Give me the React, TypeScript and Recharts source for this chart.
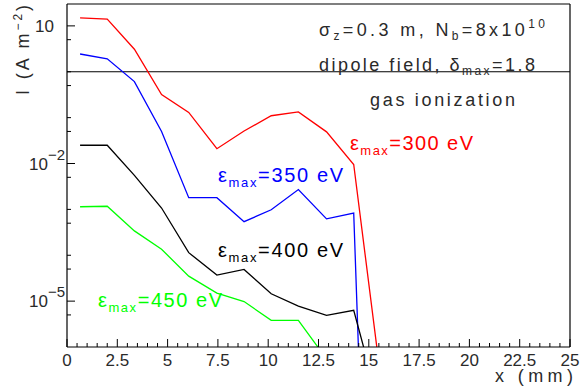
import { LineChart, Line, XAxis, YAxis, ReferenceLine } from 'recharts'

// bin centres (mm) shared by all four curves
const xPos = [0.65, 2.0, 3.35, 4.7, 6.05, 7.45, 8.8, 10.15, 11.5, 12.9, 14.25, 15.6]

// current density I (A m^-2) for each max SEY energy
const e300 = [15, 14, 3.1, 0.32, 0.13, 0.021, 0.051, 0.11, 0.133, 0.049, 0.0095, 2e-7]
const e350 = [2.44, 1.92, 0.61, 0.05, 0.0018, 0.0018, 5.4e-4, 9.8e-4, 0.0027, 6.2e-4, 8.3e-4, 1e-20]
const e400 = [0.025, 0.025, 0.0055, 0.00107, 1.14e-4, 3.7e-5, 4.9e-5, 1.45e-5, 7.8e-6, 4.9e-6, 6.3e-6, 4e-8]
const e450 = [0.00114, 0.00117, 3.4e-4, 1.35e-4, 3.5e-5, 1.5e-5, 9.8e-6, 3.8e-6, 3.8e-6, 5.5e-7, null, null]

const gasIonization = 1

const xMajor = [0, 2.5, 5, 7.5, 10, 12.5, 15, 17.5, 20, 22.5, 25]
const xMinor = Array.from({ length: 51 }, (_, i) => i * 0.5)
const yMajor = [10, 1e-2, 1e-5]
const yMajorExp = ['', '−2', '−5']
const yMinor = [5, 1, 0.5, 0.1, 0.05, 5e-3, 1e-3, 5e-4, 1e-4, 5e-5, 5e-6]

const data = xPos.map((x, i) => ({
  x, e300: e300[i], e350: e350[i], e400: e400[i], e450: e450[i],
}))

const FONT = '"Liberation Sans", Arial, sans-serif'
const INK = '#2a2a2a'

function XTick({ x, y, payload }: any) {
  const v = payload.value
  const major = xMajor.includes(v)
  return (
    <g>
      <line x1={x} x2={x} y1={y} y2={y - (major ? 8 : 4)} stroke="#000" />
      {major && (
        <text x={x} y={y + 19} textAnchor="middle" fontSize={17} fontFamily={FONT} fill={INK}>
          {String(v)}
        </text>
      )}
    </g>
  )
}

function YTick({ x, y, payload }: any) {
  const v = payload.value
  const idx = yMajor.indexOf(v)
  const major = idx >= 0
  return (
    <g>
      <line x1={x} x2={x + (major ? 8 : 4)} y1={y} y2={y} stroke="#000" />
      {major && yMajorExp[idx] === '' && (
        <text x={x - 13} y={y + 6} textAnchor="end" fontSize={17} fontFamily={FONT} fill={INK}>10</text>
      )}
      {major && yMajorExp[idx] !== '' && (
        <text x={x - 2} y={y + 6} textAnchor="end" fontSize={17} fontFamily={FONT} fill={INK}>
          10<tspan dy={-10} fontSize={15}>{yMajorExp[idx]}</tspan>
        </text>
      )}
    </g>
  )
}

function Eps({ x, y, len, color, value }: { x: number; y: number; len: number; color: string; value: string }) {
  return (
    <text x={x} y={y} fontSize={20} fontFamily={FONT} fill={color} textLength={len} lengthAdjust="spacing">
      ε<tspan dy={5} fontSize={13}>max</tspan><tspan dy={-5}>={value} eV</tspan>
    </text>
  )
}

export default function App() {
  return (
    <div style={{ position: 'absolute', left: 0, top: 0, width: 586, height: 389, background: '#fff' }}>
      <LineChart width={586} height={389} data={data} margin={{ top: 4, right: 16, bottom: 0, left: 0 }}>
        <XAxis
          dataKey="x" type="number" domain={[0, 25]} allowDataOverflow
          ticks={xMinor} interval={0} tick={(p: any) => <XTick {...p} />}
          tickSize={0} tickMargin={0} tickLine={false} height={42}
          axisLine={{ stroke: '#000', strokeWidth: 1.2 }}
        />
        <YAxis
          type="number" scale="log" domain={[1e-6, 30]} allowDataOverflow
          ticks={[...yMajor, ...yMinor]} interval={0} tick={(p: any) => <YTick {...p} />}
          tickSize={0} tickMargin={0} tickLine={false} width={67}
          axisLine={{ stroke: '#000', strokeWidth: 1.2 }}
        />
        <ReferenceLine y={30} stroke="#000" strokeWidth={1.2} />
        <ReferenceLine x={25} stroke="#000" strokeWidth={1.2} />
        <ReferenceLine y={gasIonization} stroke="#000" strokeWidth={1.2} />
        <Line dataKey="e300" stroke="#ff0000" strokeWidth={1.3} dot={false} isAnimationActive={false} />
        <Line dataKey="e350" stroke="#0000ff" strokeWidth={1.3} dot={false} isAnimationActive={false} />
        <Line dataKey="e400" stroke="#000000" strokeWidth={1.3} dot={false} isAnimationActive={false} />
        <Line dataKey="e450" stroke="#00ff00" strokeWidth={1.3} dot={false} isAnimationActive={false} />
      </LineChart>
      <svg width={586} height={389} style={{ position: 'absolute', left: 0, top: 0, pointerEvents: 'none' }}>
        <text x={319} y={36} fontSize={18} fontFamily={FONT} fill={INK} textLength={226} lengthAdjust="spacing">
          σ<tspan dy={4} fontSize={12}>z</tspan><tspan dy={-4}>=0.3 m,  N</tspan>
          <tspan dy={4} fontSize={12}>b</tspan><tspan dy={-4}>=8x10</tspan>
          <tspan dy={-8} fontSize={12}>10</tspan>
        </text>
        <text x={319} y={71} fontSize={18} fontFamily={FONT} fill={INK} textLength={216} lengthAdjust="spacing">
          dipole field, δ<tspan dy={4} fontSize={12}>max</tspan><tspan dy={-4}>=1.8</tspan>
        </text>
        <text x={370} y={106} fontSize={18} fontFamily={FONT} fill={INK} textLength={145} lengthAdjust="spacing">
          gas ionization
        </text>
        <Eps x={350} y={150} len={123} color="#ff0000" value="300" />
        <Eps x={218} y={182} len={125} color="#0000ff" value="350" />
        <Eps x={218} y={257} len={125} color="#000000" value="400" />
        <Eps x={98} y={307} len={124} color="#00ff00" value="450" />
        <text transform="translate(29,5) rotate(-90)" textAnchor="end" fontSize={18} fontFamily={FONT} fill={INK}
          textLength={90} lengthAdjust="spacing">
          I (A m<tspan dy={-7} fontSize={12}>−2</tspan><tspan dy={7}>)</tspan>
        </text>
        <text x={573} y={382} textAnchor="end" fontSize={18} fontFamily={FONT} fill={INK}
          textLength={78} lengthAdjust="spacing">x (mm)</text>
      </svg>
    </div>
  )
}
